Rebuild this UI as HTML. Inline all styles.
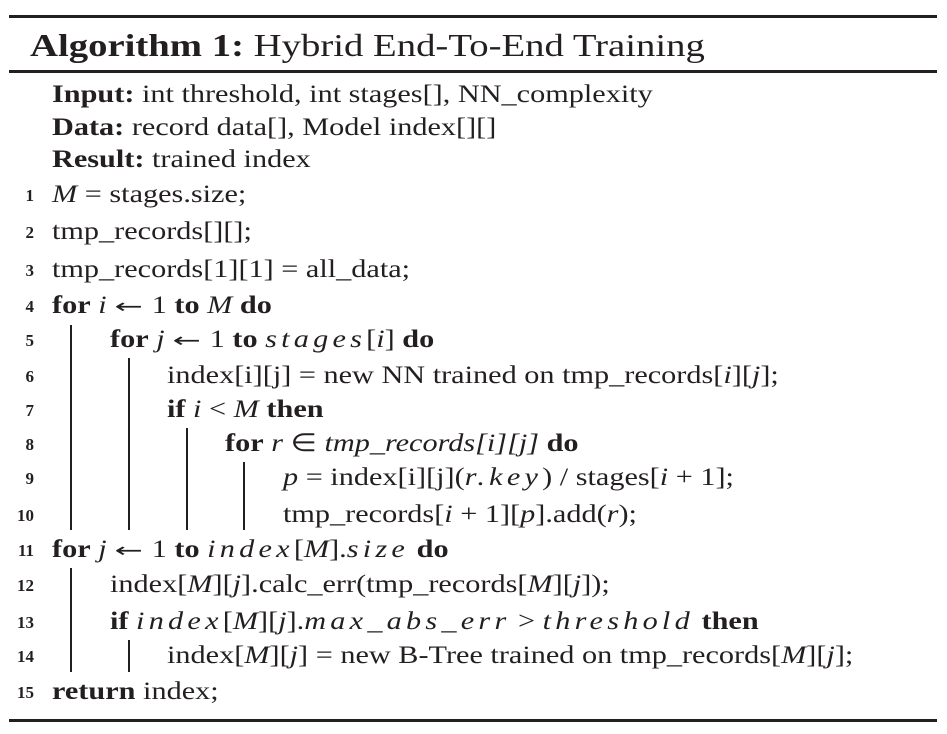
<!DOCTYPE html>
<html><head><meta charset="utf-8"><style>
body{margin:0;width:947px;height:734px;background:#fff;position:relative;overflow:hidden;font-family:"Liberation Serif",serif;color:#231f20}
.rule{position:absolute;left:9px;width:928px;background:#231f20}
.ln{position:absolute;height:30px;line-height:30px;font-size:25px;white-space:nowrap;transform:scaleX(1.21);transform-origin:0 50%}
.num{position:absolute;width:26px;text-align:right;left:8px;font-size:17px;font-weight:bold;height:30px;line-height:32px}
.bar{position:absolute;width:2px;background:#231f20}
b{font-weight:bold}
.mi{font-style:italic;letter-spacing:3.5px}
.ar{font-family:"DejaVu Sans",sans-serif;font-size:20px;display:inline-block;transform:scaleX(1.4);margin:0 4px}
</style></head><body>
<div class="rule" style="top:15px;height:3px"></div>
<div class="ln" style="left:30px;top:27px;height:36px;line-height:36px;font-size:32px"><b>Algorithm 1:</b> Hybrid End-To-End Training</div>
<div class="rule" style="top:70px;height:3px"></div>

<div class="ln" style="left:52px;top:80px"><b>Input:</b> int threshold, int stages[], NN_complexity</div>
<div class="ln" style="left:52px;top:113px"><b>Data:</b> record data[], Model index[][]</div>
<div class="ln" style="left:52px;top:145px"><b>Result:</b> trained index</div>

<div class="num" style="top:180px">1</div>
<div class="ln" style="left:52px;top:180px"><i>M</i> = stages.size;</div>
<div class="num" style="top:217px">2</div>
<div class="ln" style="left:52px;top:217px">tmp_records[][];</div>
<div class="num" style="top:255px">3</div>
<div class="ln" style="left:52px;top:255px">tmp_records[1][1] = all_data;</div>
<div class="num" style="top:291px">4</div>
<div class="ln" style="left:52px;top:291px"><b>for</b> <i>i</i> <span class="ar">←</span> 1 <b>to</b> <i>M</i> <b>do</b></div>
<div class="num" style="top:325px">5</div>
<div class="ln" style="left:110px;top:325px"><b>for</b> <i>j</i> <span class="ar">←</span> 1 <b>to</b> <span class="mi">stages</span>[<i>i</i>] <b>do</b></div>
<div class="num" style="top:361px">6</div>
<div class="ln" style="left:167px;top:361px">index[i][j] = new NN trained on tmp_records[<i>i</i>][<i>j</i>];</div>
<div class="num" style="top:395px">7</div>
<div class="ln" style="left:167px;top:395px"><b>if</b> <i>i</i> &lt; <i>M</i> <b>then</b></div>
<div class="num" style="top:429px">8</div>
<div class="ln" style="left:225px;top:429px"><b>for</b> <i>r</i> ∈ <i>tmp_records[i][j]</i> <b>do</b></div>
<div class="num" style="top:463px">9</div>
<div class="ln" style="left:283px;top:463px"><i>p</i> = index[i][j](<span class="mi">r.key</span>) / stages[<i>i</i> + 1];</div>
<div class="num" style="top:500px">10</div>
<div class="ln" style="left:283px;top:500px">tmp_records[<i>i</i> + 1][<i>p</i>].add(<i>r</i>);</div>
<div class="num" style="top:535px">11</div>
<div class="ln" style="left:52px;top:535px"><b>for</b> <i>j</i> <span class="ar">←</span> 1 <b>to</b> <span class="mi">index</span>[<i>M</i>].<span class="mi">size</span> <b>do</b></div>
<div class="num" style="top:570px">12</div>
<div class="ln" style="left:110px;top:570px">index[<i>M</i>][<i>j</i>].calc_err(tmp_records[<i>M</i>][<i>j</i>]);</div>
<div class="num" style="top:607px">13</div>
<div class="ln" style="left:110px;top:607px"><b>if</b> <span class="mi">index</span>[<i>M</i>][<i>j</i>].<span class="mi">max_abs_err</span> &gt; <span class="mi">threshold</span> <b>then</b></div>
<div class="num" style="top:641px">14</div>
<div class="ln" style="left:167px;top:641px">index[<i>M</i>][<i>j</i>] = new B-Tree trained on tmp_records[<i>M</i>][<i>j</i>];</div>
<div class="num" style="top:677px">15</div>
<div class="ln" style="left:52px;top:677px"><b>return</b> index;</div>

<div class="bar" style="left:70px;top:325px;height:205px"></div>
<div class="bar" style="left:128px;top:358px;height:172px"></div>
<div class="bar" style="left:186px;top:428px;height:102px"></div>
<div class="bar" style="left:243px;top:462px;height:68px"></div>
<div class="bar" style="left:70px;top:568px;height:104px"></div>
<div class="bar" style="left:128px;top:640px;height:32px"></div>

<div class="rule" style="top:719px;height:3px"></div>
</body></html>
